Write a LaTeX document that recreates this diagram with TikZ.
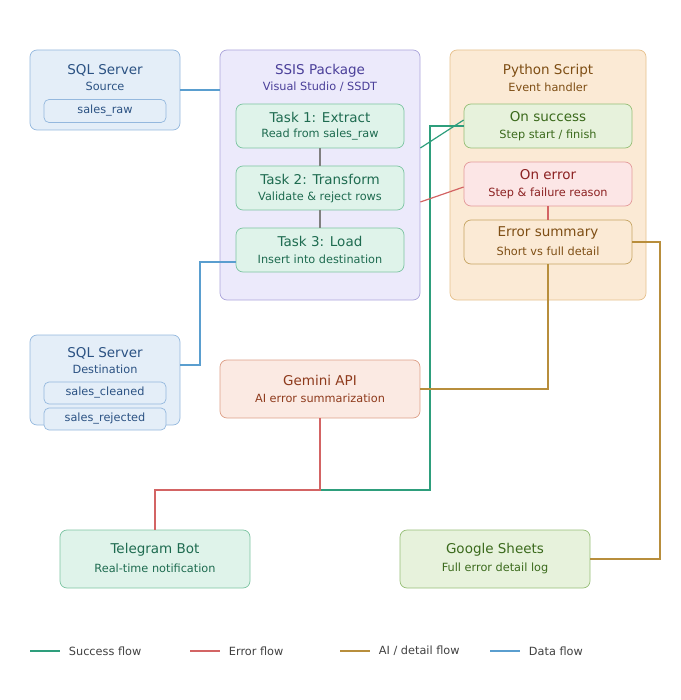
\documentclass[tikz,border=0pt]{standalone}
\usepackage{fontspec}
\setmainfont{DejaVu Sans}
\usetikzlibrary{positioning}
\definecolor{okline}{HTML}{2E9E7C}
\definecolor{errline}{HTML}{D36464}
\definecolor{ailine}{HTML}{B88E3C}
\definecolor{dataline}{HTML}{5A9ECF}
\definecolor{dbfill}{HTML}{E4EEF8}
\definecolor{dbdraw}{HTML}{94B8DE}
\definecolor{dbtext}{HTML}{2B5283}
\definecolor{pkfill}{HTML}{ECEAFB}
\definecolor{pkdraw}{HTML}{ABA4DA}
\definecolor{pktext}{HTML}{4A3F99}
\definecolor{pyfill}{HTML}{FBEAD5}
\definecolor{pydraw}{HTML}{E6C08C}
\definecolor{pytext}{HTML}{7E4E14}
\definecolor{tkfill}{HTML}{DFF3EA}
\definecolor{tkdraw}{HTML}{7CC4A2}
\definecolor{tktext}{HTML}{1E6B50}
\definecolor{gnfill}{HTML}{E7F2DC}
\definecolor{gndraw}{HTML}{96BE76}
\definecolor{gntext}{HTML}{3B6A1C}
\definecolor{erfill}{HTML}{FCE6E6}
\definecolor{erdraw}{HTML}{E39A9A}
\definecolor{ertext}{HTML}{8C2222}
\definecolor{gmfill}{HTML}{FBEAE3}
\definecolor{gmdraw}{HTML}{DDA088}
\definecolor{gmtext}{HTML}{8E3A1C}
\tikzset{
  box/.style={draw,rounded corners=7pt,line width=0.7pt,inner sep=0pt},
  ttl/.style={font=\fontsize{13.5}{15}\selectfont},
  sub/.style={font=\fontsize{11.3}{13}\selectfont},
  wire/.style={line width=1.2pt},
}
\begin{document}
\begin{tikzpicture}[x=1pt,y=-1pt]
\useasboundingbox (0,0) rectangle (680,700);
% containers
\node (src) [box,draw=dbdraw,fill=dbfill,minimum width=150,minimum height=80] at (105,90) {};
\node (ssis) [box,draw=pkdraw,fill=pkfill,minimum width=200,minimum height=250] at (320,175) {};
\node (py) [box,draw=pydraw,fill=pyfill,minimum width=196,minimum height=250] at (548,175) {};
\node (dst) [box,draw=dbdraw,fill=dbfill,minimum width=150,minimum height=90] at (105,380) {};
\node (gem) [box,draw=gmdraw,fill=gmfill,minimum width=200,minimum height=58] at (320,389) {};
\node (tg) [box,draw=tkdraw,fill=tkfill,minimum width=190,minimum height=58] at (155,559) {};
\node (gs) [box,draw=gndraw,fill=gnfill,minimum width=190,minimum height=58] at (495,559) {};
% titles
\node[ttl,text=dbtext] at (105,70) {SQL Server};
\node[sub,text=dbtext] at (105,86) {Source};
\node (raw) [box,rounded corners=5pt,draw=dbdraw,fill=dbfill,minimum width=122,minimum height=23,sub,text=dbtext] at (105,111) {sales\_raw};
\node[ttl,text=pktext] at (320,71) {SSIS Package};
\node[sub,text=pktext] at (320,87) {Visual Studio / SSDT};
\node[ttl,text=pytext] at (548,71) {Python Script};
\node[sub,text=pytext] at (548,87) {Event handler};
\node[ttl,text=dbtext] at (105,353) {SQL Server};
\node[sub,text=dbtext] at (105,369) {Destination};
\node (cln) [box,rounded corners=5pt,draw=dbdraw,fill=dbfill,minimum width=122,minimum height=22,sub,text=dbtext] at (105,393) {sales\_cleaned};
\node (rej) [box,rounded corners=5pt,draw=dbdraw,fill=dbfill,minimum width=122,minimum height=22,sub,text=dbtext] at (105,419) {sales\_rejected};
% tasks
\foreach \n/\y/\a/\b in {t1/126/Task 1: Extract/Read from sales\_raw,
                         t2/188/Task 2: Transform/Validate \& reject rows,
                         t3/250/Task 3: Load/Insert into destination}{
  \node (\n) [box,draw=tkdraw,fill=tkfill,minimum width=168,minimum height=44] at (320,\y) {};
  \node[ttl,text=tktext] at (320,\y-9) {\a};
  \node[sub,text=tktext] at (320,\y+9) {\b};
}
% handlers
\node (ok) [box,draw=gndraw,fill=gnfill,minimum width=168,minimum height=44] at (548,126) {};
\node[ttl,text=gntext] at (548,117) {On success};
\node[sub,text=gntext] at (548,135) {Step start / finish};
\node (er) [box,draw=erdraw,fill=erfill,minimum width=168,minimum height=44] at (548,184) {};
\node[ttl,text=ertext] at (548,175) {On error};
\node[sub,text=ertext] at (548,193) {Step \& failure reason};
\node (sum) [box,draw=ailine!80,fill=pyfill,minimum width=168,minimum height=44] at (548,242) {};
\node[ttl,text=pytext] at (548,233) {Error summary};
\node[sub,text=pytext] at (548,251) {Short vs full detail};
\node[ttl,text=gmtext] at (320,380) {Gemini API};
\node[sub,text=gmtext] at (320,398) {AI error summarization};
\node[ttl,text=tktext] at (155,550) {Telegram Bot};
\node[sub,text=tktext] at (155,568) {Real-time notification};
\node[ttl,text=gntext] at (495,550) {Google Sheets};
\node[sub,text=gntext] at (495,568) {Full error detail log};
% connectors
\coordinate (m) at (155,490);
\draw[wire,gray] (t1) -- (t2);
\draw[wire,gray] (t2) -- (t3);
\draw[wire,errline] (er) -- (sum);
\draw[wire,dataline] (src.east |- 0,90) -- (ssis.west |- 0,90);
\draw[wire,dataline] (t3.west |- 0,262) -| (200,365) -- (dst.east |- 0,365);
\draw[wire,okline] (ssis.east |- 0,148) -- (ok.west |- 0,120);
\draw[wire,okline] (ok.west |- 0,126) -| (430,490) -- (320,490);
\draw[wire,errline] (ssis.east |- 0,202) -- (er.west |- 0,187);
\draw[wire,errline] (gem) -- (320,490) -- (m) -- (tg);
\draw[wire,ailine] (sum) |- (gem);
\draw[wire,ailine] (sum) -| (660,559) -- (gs);
% legend
\foreach \x/\c/\t in {30/okline/{Success flow},190/errline/{Error flow},340/ailine/{AI / detail flow},490/dataline/{Data flow}}{
  \coordinate (l\x) at (\x,651);
  \draw[wire,\c] (l\x) -- ++(30,0) node[right=5pt,sub,text=black!75] {\t};
}
\end{tikzpicture}
\end{document}
